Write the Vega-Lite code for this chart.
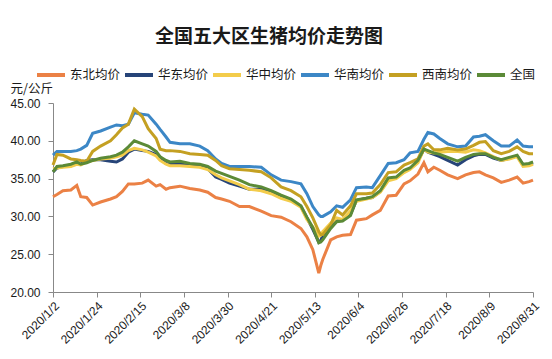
{
  "$schema": "https://vega.github.io/schema/vega-lite/v6.json",
  "width": 480,
  "height": 189,
  "autosize": {"type": "none"},
  "padding": {"left": 53, "top": 103, "right": 19, "bottom": 67},
  "background": "white",
  "config": {"view": {"stroke": null}, "font": "Liberation Sans"},
  "title": {
    "text": "全国五大区生猪均价走势图",
    "font": "Noto Sans CJK SC",
    "fontSize": 19,
    "fontWeight": "bold",
    "color": "#1a1a1a",
    "anchor": "middle",
    "dx": -24,
    "offset": 12
  },
  "data": {
    "values": [
      {"d":"2020-01-02","东北均价":32.6,"华东均价":35.9,"华中均价":36.3,"华南均价":38.1,"西南均价":36.8,"全国":35.9},
      {"d":"2020-01-04","东北均价":32.9,"华东均价":36.4,"华中均价":36.4,"华南均价":38.6,"西南均价":38.2,"全国":36.6},
      {"d":"2020-01-07","东北均价":33.4,"华东均价":36.6,"华中均价":36.5,"华南均价":38.6,"西南均价":38.1,"全国":36.7},
      {"d":"2020-01-11","东北均价":33.5,"华东均价":36.7,"华中均价":36.6,"华南均价":38.6,"西南均价":37.6,"全国":36.9},
      {"d":"2020-01-14","东北均价":34.1,"华东均价":37.0,"华中均价":36.9,"华南均价":38.7,"西南均价":37.5,"全国":37.2},
      {"d":"2020-01-16","东北均价":32.6,"华东均价":36.9,"华中均价":36.8,"华南均价":38.9,"西南均价":37.4,"全国":36.9},
      {"d":"2020-01-19","东北均价":32.5,"华东均价":37.4,"华中均价":37.2,"华南均价":39.4,"西南均价":37.3,"全国":37.1},
      {"d":"2020-01-22","东北均价":31.5,"华东均价":37.5,"华中均价":37.4,"华南均价":41.0,"西南均价":38.6,"全国":37.4},
      {"d":"2020-01-26","东北均价":31.9,"华东均价":37.5,"华中均价":37.6,"华南均价":41.3,"西南均价":39.3,"全国":37.7},
      {"d":"2020-01-31","东北均价":32.3,"华东均价":37.3,"华中均价":37.7,"华南均价":41.8,"西南均价":40.0,"全国":37.9},
      {"d":"2020-02-03","东北均价":32.6,"华东均价":37.2,"华中均价":37.9,"华南均价":42.1,"西南均价":40.8,"全国":38.1},
      {"d":"2020-02-06","东北均价":33.3,"华东均价":37.6,"华中均价":38.1,"华南均价":42.0,"西南均价":41.7,"全国":38.5},
      {"d":"2020-02-09","东北均价":34.3,"华东均价":38.5,"华中均价":38.7,"华南均价":42.2,"西南均价":42.2,"全国":39.2},
      {"d":"2020-02-12","东北均价":34.3,"华东均价":38.9,"华中均价":39.0,"华南均价":43.7,"西南均价":44.2,"全国":40.0},
      {"d":"2020-02-16","东北均价":34.4,"华东均价":38.7,"华中均价":38.8,"华南均价":43.5,"西南均价":43.2,"全国":39.6},
      {"d":"2020-02-19","东北均价":34.8,"华东均价":38.6,"华中均价":38.5,"华南均价":43.4,"西南均价":41.6,"全国":39.3},
      {"d":"2020-02-23","东北均价":34.0,"华东均价":38.2,"华中均价":38.0,"华南均价":42.2,"西南均价":40.3,"全国":38.6},
      {"d":"2020-02-25","东北均价":34.2,"华东均价":37.6,"华中均价":37.4,"华南均价":41.5,"西南均价":38.9,"全国":37.9},
      {"d":"2020-02-28","东北均价":33.6,"华东均价":37.0,"华中均价":36.9,"华南均价":40.5,"西南均价":38.7,"全国":37.4},
      {"d":"2020-03-01","东北均价":33.8,"华东均价":36.9,"华中均价":36.7,"华南均价":39.8,"西南均价":38.7,"全国":37.2},
      {"d":"2020-03-06","东北均价":34.0,"华东均价":36.9,"华中均价":36.7,"华南均价":39.6,"西南均价":38.6,"全国":37.3},
      {"d":"2020-03-11","东北均价":33.7,"华东均价":36.8,"华中均价":36.6,"华南均价":39.6,"西南均价":38.3,"全国":37.0},
      {"d":"2020-03-16","东北均价":33.5,"华东均价":36.6,"华中均价":36.5,"华南均价":39.3,"西南均价":38.2,"全国":36.9},
      {"d":"2020-03-20","东北均价":33.2,"华东均价":36.3,"华中均价":36.2,"华南均价":38.7,"西南均价":38.1,"全国":36.6},
      {"d":"2020-03-24","东北均价":32.5,"华东均价":35.2,"华中均价":35.5,"华南均价":37.6,"西南均价":37.4,"全国":36.0},
      {"d":"2020-03-27","东北均价":32.3,"华东均价":34.9,"华中均价":35.1,"华南均价":37.0,"西南均价":36.7,"全国":35.7},
      {"d":"2020-03-31","东北均价":32.0,"华东均价":34.4,"华中均价":34.7,"华南均价":36.6,"西南均价":36.3,"全国":35.3},
      {"d":"2020-04-05","东北均价":31.3,"华东均价":34.0,"华中均价":34.2,"华南均价":36.6,"西南均价":36.2,"全国":34.8},
      {"d":"2020-04-10","东北均价":31.3,"华东均价":33.6,"华中均价":33.6,"华南均价":36.6,"西南均价":36.1,"全国":34.2},
      {"d":"2020-04-16","东北均价":30.7,"华东均价":33.6,"华中均价":33.4,"华南均价":36.5,"西南均价":35.9,"全国":33.9},
      {"d":"2020-04-21","东北均价":30.1,"华东均价":33.1,"华中均价":33.0,"华南均价":35.5,"西南均价":35.1,"全国":33.4},
      {"d":"2020-04-26","东北均价":29.9,"华东均价":32.6,"华中均价":32.4,"华南均价":34.8,"西南均价":33.9,"全国":32.8},
      {"d":"2020-05-01","东北均价":29.3,"华东均价":32.2,"华中均价":32.0,"华南均价":34.6,"西南均价":33.4,"全国":32.3},
      {"d":"2020-05-06","东北均价":28.4,"华东均价":31.3,"华中均价":31.2,"华南均价":34.3,"西南均价":32.6,"全国":31.4},
      {"d":"2020-05-09","东北均价":27.3,"华东均价":29.8,"华中均价":29.6,"华南均价":33.0,"西南均价":31.3,"全国":29.9},
      {"d":"2020-05-12","东北均价":25.6,"华东均价":28.3,"华中均价":28.6,"华南均价":31.3,"西南均价":29.8,"全国":28.5},
      {"d":"2020-05-15","东北均价":22.5,"华东均价":26.6,"华中均价":27.4,"华南均价":30.2,"西南均价":28.0,"全国":26.5},
      {"d":"2020-05-16","东北均价":23.5,"华东均价":26.8,"华中均价":27.5,"华南均价":30.0,"西南均价":27.6,"全国":26.6},
      {"d":"2020-05-17","东北均价":24.3,"华东均价":27.5,"华中均价":28.0,"华南均价":30.0,"西南均价":27.6,"全国":26.9},
      {"d":"2020-05-21","东北均价":26.9,"华东均价":28.6,"华中均价":29.1,"华南均价":30.6,"西南均价":28.9,"全国":28.4},
      {"d":"2020-05-24","东北均价":27.3,"华东均价":29.4,"华中均价":29.8,"华南均价":31.4,"西南均价":30.8,"全国":29.3},
      {"d":"2020-05-27","东北均价":27.5,"华东均价":29.5,"华中均价":29.6,"华南均价":31.2,"西南均价":30.2,"全国":29.4},
      {"d":"2020-05-31","东北均价":27.6,"华东均价":30.3,"华中均价":30.7,"华南均价":32.2,"西南均价":31.4,"全国":30.1},
      {"d":"2020-06-03","东北均价":29.5,"华东均价":32.1,"华中均价":32.0,"华南均价":33.8,"西南均价":33.0,"全国":32.2},
      {"d":"2020-06-08","东北均价":29.7,"华东均价":32.4,"华中均价":32.3,"华南均价":33.9,"西南均价":33.0,"全国":32.4},
      {"d":"2020-06-11","东北均价":30.2,"华东均价":32.5,"华中均价":32.5,"华南均价":33.8,"西南均价":33.1,"全国":32.6},
      {"d":"2020-06-15","东北均价":30.8,"华东均价":33.3,"华中均价":33.2,"华南均价":35.4,"西南均价":34.2,"全国":33.4},
      {"d":"2020-06-19","东北均价":32.7,"华东均价":34.9,"华中均价":34.7,"华南均价":37.0,"西南均价":35.8,"全国":35.1},
      {"d":"2020-06-23","东北均价":32.8,"华东均价":35.1,"华中均价":35.0,"华南均价":37.1,"西南均价":35.9,"全国":35.2},
      {"d":"2020-06-27","东北均价":34.3,"华东均价":36.0,"华中均价":35.8,"华南均价":37.5,"西南均价":36.8,"全国":36.1},
      {"d":"2020-06-30","东北均价":34.7,"华东均价":36.3,"华中均价":36.2,"华南均价":38.4,"西南均价":37.1,"全国":36.4},
      {"d":"2020-07-04","东北均价":35.6,"华东均价":37.3,"华中均价":37.1,"华南均价":38.6,"西南均价":37.6,"全国":37.4},
      {"d":"2020-07-07","东北均价":37.1,"华东均价":38.9,"华中均价":38.9,"华南均价":40.2,"西南均价":39.3,"全国":38.9},
      {"d":"2020-07-09","东北均价":35.9,"华东均价":38.5,"华中均价":38.5,"华南均价":41.1,"西南均价":39.6,"全国":38.7},
      {"d":"2020-07-12","东北均价":36.5,"华东均价":38.2,"华中均价":38.4,"华南均价":40.9,"西南均价":38.8,"全国":38.4},
      {"d":"2020-07-15","东北均价":36.1,"华东均价":37.9,"华中均价":38.5,"华南均价":40.3,"西南均价":38.8,"全国":38.2},
      {"d":"2020-07-19","东北均价":35.5,"华东均价":37.4,"华中均价":38.6,"华南均价":39.6,"西南均价":39.0,"全国":37.8},
      {"d":"2020-07-24","东北均价":35.0,"华东均价":36.8,"华中均价":38.6,"华南均价":39.2,"西南均价":38.8,"全国":37.3},
      {"d":"2020-07-28","东北均价":35.5,"华东均价":37.5,"华中均价":38.5,"华南均价":39.3,"西南均价":38.9,"全国":37.8},
      {"d":"2020-08-01","东北均价":35.8,"华东均价":38.0,"华中均价":38.8,"华南均价":40.5,"西南均价":39.4,"全国":38.2},
      {"d":"2020-08-04","东北均价":35.9,"华东均价":38.2,"华中均价":38.7,"华南均价":40.6,"西南均价":39.8,"全国":38.3},
      {"d":"2020-08-07","东北均价":35.5,"华东均价":38.2,"华中均价":38.4,"华南均价":40.8,"西南均价":39.9,"全国":38.3},
      {"d":"2020-08-11","东北均价":35.1,"华东均价":37.7,"华中均价":37.9,"华南均价":40.0,"西南均价":38.7,"全国":37.8},
      {"d":"2020-08-15","东北均价":34.5,"华东均价":37.4,"华中均价":37.4,"华南均价":39.3,"西南均价":38.3,"全国":37.5},
      {"d":"2020-08-19","东北均价":34.8,"华东均价":37.7,"华中均价":37.6,"华南均价":39.3,"西南均价":38.6,"全国":37.8},
      {"d":"2020-08-23","东北均价":35.2,"华东均价":38.0,"华中均价":37.9,"华南均价":40.1,"西南均价":39.2,"全国":38.1},
      {"d":"2020-08-26","东北均价":34.4,"华东均价":36.8,"华中均价":36.6,"华南均价":39.3,"西南均价":38.6,"全国":36.9},
      {"d":"2020-08-29","东北均价":34.6,"华东均价":36.9,"华中均价":36.7,"华南均价":39.2,"西南均价":38.3,"全国":37.0},
      {"d":"2020-08-31","东北均价":34.8,"华东均价":37.1,"华中均价":36.9,"华南均价":39.2,"西南均价":38.3,"全国":37.2}
    ]
  },
  "transform": [
    {"fold": ["东北均价", "华东均价", "华中均价", "华南均价", "西南均价", "全国"], "as": ["s", "v"]}
  ],
  "mark": {"type": "line", "strokeWidth": 3, "interpolate": "linear"},
  "encoding": {
    "x": {
      "field": "d",
      "type": "temporal",
      "scale": {
        "type": "utc",
        "domain": [{"year": 2020, "month": 1, "date": 2, "utc": true}, {"year": 2020, "month": 8, "date": 31, "utc": true}]
      },
      "axis": {
        "title": null,
        "values": [
          {"year": 2020, "month": 1, "date": 2, "utc": true},
          {"year": 2020, "month": 1, "date": 24, "utc": true},
          {"year": 2020, "month": 2, "date": 15, "utc": true},
          {"year": 2020, "month": 3, "date": 8, "utc": true},
          {"year": 2020, "month": 3, "date": 30, "utc": true},
          {"year": 2020, "month": 4, "date": 21, "utc": true},
          {"year": 2020, "month": 5, "date": 13, "utc": true},
          {"year": 2020, "month": 6, "date": 4, "utc": true},
          {"year": 2020, "month": 6, "date": 26, "utc": true},
          {"year": 2020, "month": 7, "date": 18, "utc": true},
          {"year": 2020, "month": 8, "date": 9, "utc": true},
          {"year": 2020, "month": 8, "date": 31, "utc": true}
        ],
        "labelExpr": "utcFormat(datum.value, '%Y/%-m/%-d')",
        "labelAngle": -45,
        "labelFont": "Liberation Sans",
        "labelFontSize": 12,
        "labelColor": "#1a1a1a",
        "labelPadding": 3,
        "labelOverlap": false,
        "labelFlush": false,
        "grid": false,
        "domainColor": "#888888",
        "tickColor": "#888888",
        "tickSize": 5
      }
    },
    "y": {
      "field": "v",
      "type": "quantitative",
      "scale": {"domain": [20, 45], "nice": false, "zero": false},
      "axis": {
        "values": [20, 25, 30, 35, 40, 45],
        "format": ".2f",
        "grid": false,
        "labelFont": "Liberation Sans",
        "labelFontSize": 12,
        "labelColor": "#1a1a1a",
        "labelPadding": 8,
        "domainColor": "#888888",
        "tickColor": "#888888",
        "tickSize": 5,
        "title": "元/公斤",
        "titleFont": "Noto Sans CJK SC",
        "titleFontSize": 12.5,
        "titleFontWeight": "normal",
        "titleColor": "#1a1a1a",
        "titleAngle": 0,
        "titleAlign": "left",
        "titleBaseline": "middle",
        "titleX": -43,
        "titleY": -15
      }
    },
    "color": {
      "field": "s",
      "type": "nominal",
      "scale": {
        "domain": ["东北均价", "华东均价", "华中均价", "华南均价", "西南均价", "全国"],
        "range": ["#EB8145", "#264478", "#F3CC4B", "#3C87C6", "#C4A022", "#5B8A37"]
      },
      "legend": {
        "title": null,
        "orient": "none",
        "legendX": -18,
        "legendY": -44,
        "direction": "horizontal",
        "columns": 6,
        "symbolType": "stroke",
        "symbolSize": 784,
        "symbolStrokeWidth": 4,
        "labelFont": "Noto Sans CJK SC",
        "labelFontSize": 12.5,
        "labelColor": "#1a1a1a",
        "labelOffset": 3,
        "columnPadding": -4
      }
    }
  }
}
